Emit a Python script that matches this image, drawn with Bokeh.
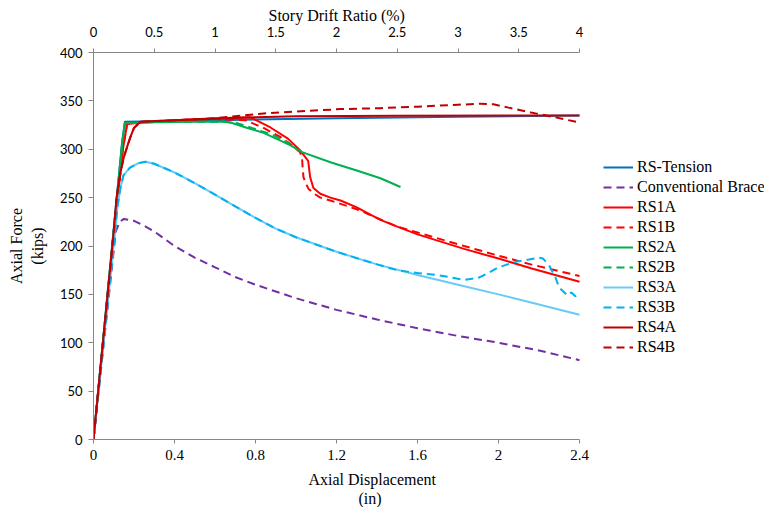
from bokeh.plotting import figure
from bokeh.models import (Range1d, LinearAxis, FixedTicker, Legend, LegendItem, Title)
from bokeh.embed import file_html
from bokeh.resources import INLINE

# Axial force (kips) versus axial displacement (in) for each brace specimen
rs_tension_x = [0, 0.14, 0.155, 0.6, 1.2, 1.8, 2.4]
rs_tension_y = [0, 305, 328.5, 330, 332, 333.5, 335]

conv_x = [0, 0.11, 0.13, 0.15, 0.2, 0.25, 0.3, 0.4, 0.5, 0.6, 0.7, 0.8, 1.0, 1.2, 1.4,
          1.6, 1.8, 2.0, 2.2, 2.4]
conv_y = [0, 215, 225, 228, 226, 221, 215, 200, 188, 178, 168, 160, 146, 134, 124,
          115, 107, 100, 92, 82]

rs1a_x = [0, 0.12, 0.145, 0.166, 0.25, 0.4, 0.6, 0.775, 0.874, 0.96, 1.02, 1.06, 1.07,
          1.086, 1.12, 1.17, 1.22, 1.3, 1.417, 1.5, 1.6, 1.83, 2.0, 2.16, 2.4]
rs1a_y = [0, 250, 300, 326, 328, 330, 332, 333, 322.5, 311, 299, 288, 271,
          260, 254, 250, 247, 240, 227, 220, 212, 197, 187, 177, 163]

rs1b_x = [0, 0.12, 0.145, 0.166, 0.25, 0.4, 0.6, 0.75, 0.84, 0.92, 0.98, 1.02, 1.03,
          1.033, 1.037, 1.05, 1.062, 1.09, 1.12, 1.17, 1.3, 1.5, 1.6, 1.83, 2.0, 2.16, 2.4]
rs1b_y = [0, 250, 300, 326, 328, 330, 331, 330, 322, 313, 304, 297, 291,
          280, 271, 264, 259, 254, 250, 247, 238, 220, 214, 200, 190, 181, 169]

rs2a_x = [0, 0.143, 0.155, 0.3, 0.5, 0.64, 0.677, 0.76, 0.84, 0.923, 0.973, 1.03, 1.17,
          1.3, 1.417, 1.516]
rs2a_y = [0, 309, 327, 328, 328.5, 328.7, 327.6, 322, 317, 309, 304, 297, 286.5,
          278, 270, 261]

rs2b_x = [0, 0.143, 0.155, 0.3, 0.5, 0.64, 0.71, 0.775, 0.825, 0.874, 0.94, 0.97]
rs2b_y = [0, 309, 327, 328, 328.5, 328.5, 327, 322.5, 319, 316, 309, 306]

rs3a_x = [0, 0.09, 0.105, 0.118, 0.133, 0.148, 0.18, 0.22, 0.257, 0.3, 0.4, 0.5, 0.6,
          0.7, 0.8, 0.9, 1.0, 1.2, 1.4, 1.6, 1.8, 2.0, 2.2, 2.4]
rs3a_y = [0, 181, 211, 240, 260, 273, 281, 285.5, 287, 285, 276, 265, 253,
          241, 229, 218, 209, 194, 181, 170, 160, 150, 139.5, 129]

rs3b_x = [0, 0.09, 0.105, 0.118, 0.133, 0.148, 0.18, 0.22, 0.257, 0.3, 0.4, 0.5, 0.6,
          0.7, 0.8, 0.9, 1.0, 1.2, 1.4, 1.5, 1.6, 1.7, 1.83, 1.9, 1.95, 2.0, 2.09,
          2.15, 2.2, 2.22, 2.25, 2.28, 2.3, 2.32, 2.34, 2.36, 2.38, 2.39]
rs3b_y = [0, 181, 211, 240, 260, 273, 281, 285.5, 287, 285, 276, 265, 253,
          241, 229, 218, 209, 194, 181, 175, 172, 170, 165, 167, 172, 178, 184,
          186, 188, 187, 180, 168, 157, 153, 149, 152, 148, 150]

rs4a_x = [0, 0.1, 0.114, 0.133, 0.15, 0.17, 0.183, 0.2, 0.232, 0.4, 0.6, 0.8, 1.0, 1.5, 2.4]
rs4a_y = [0, 215, 250, 276, 292, 305, 313, 322, 328.5, 330, 331.5, 333, 334, 334.5, 335]

rs4b_x = [0, 0.1, 0.114, 0.133, 0.15, 0.17, 0.183, 0.2, 0.232, 0.4, 0.6, 0.84, 0.923,
          1.22, 1.417, 1.6, 1.8, 1.91, 1.975, 2.05, 2.16, 2.28, 2.4]
rs4b_y = [0, 215, 250, 276, 292, 305, 313, 322, 328.5, 330, 332, 337, 338,
          341.5, 342.5, 344, 346, 347, 346.5, 343, 338, 333, 327.6]

x_ticks = [0, 0.4, 0.8, 1.2, 1.6, 2, 2.4]
x_tick_labels = ["0", "0.4", "0.8", "1.2", "1.6", "2", "2.4"]
y_ticks = [0, 50, 100, 150, 200, 250, 300, 350, 400]
drift_ticks = [0, 0.5, 1, 1.5, 2, 2.5, 3, 3.5, 4]
drift_tick_labels = ["0", "0.5", "1", "1.5", "2", "2.5", "3", "3.5", "4"]

series = [
    ("RS-Tension", rs_tension_x, rs_tension_y, "#0070C0", "solid"),
    ("Conventional Brace", conv_x, conv_y, "#7030A0", "8 5"),
    ("RS1A", rs1a_x, rs1a_y, "#FF0000", "solid"),
    ("RS1B", rs1b_x, rs1b_y, "#FF0000", "8 5"),
    ("RS2A", rs2a_x, rs2a_y, "#00B050", "solid"),
    ("RS2B", rs2b_x, rs2b_y, "#00B050", "8 5"),
    ("RS3A", rs3a_x, rs3a_y, "#66CCF5", "solid"),
    ("RS3B", rs3b_x, rs3b_y, "#00B0F0", "8 5"),
    ("RS4A", rs4a_x, rs4a_y, "#C00000", "solid"),
    ("RS4B", rs4b_x, rs4b_y, "#C00000", "8 5"),
]

SERIF = "Liberation Serif"
SANS = "Lato"
AXIS_GRAY = "#868686"
TITLE_SIZE = "16px"

# The plotted span 0-2.4 in covers 486 px; the frame continues to the right
# edge so the legend can sit beside the curves.
AXES_PX = 486
FRAME_W = 671
x_end = 2.4 * FRAME_W / AXES_PX
drift_end = 4.0 * FRAME_W / AXES_PX

p = figure(frame_width=FRAME_W, frame_height=387, output_backend="svg", toolbar_location=None,
           x_range=Range1d(0, x_end), y_range=Range1d(0, 400),
           min_border_left=93, min_border_top=52, min_border_bottom=68, min_border_right=0,
           x_axis_location=None, y_axis_location=None)
p.outline_line_color = None
p.background_fill_color = "white"
p.border_fill_color = "white"
p.xgrid.visible = False
p.ygrid.visible = False
p.extra_x_ranges = {"drift": Range1d(0, drift_end)}


def style_axis(ax, font, size):
    ax.axis_line_color = AXIS_GRAY
    ax.axis_line_width = 1
    ax.major_tick_line_color = AXIS_GRAY
    ax.major_tick_in = 0
    ax.major_tick_out = 5
    ax.minor_tick_line_color = None
    ax.major_label_text_font = font
    ax.major_label_text_font_size = size
    ax.major_label_text_color = "#000000"
    ax.axis_label_text_font = SERIF
    ax.axis_label_text_font_size = TITLE_SIZE
    ax.axis_label_text_font_style = "normal"
    ax.axis_label_text_color = "#000000"


yaxis = LinearAxis(ticker=FixedTicker(ticks=y_ticks), axis_label="Axial Force\n(kips)")
style_axis(yaxis, SANS, "13px")
yaxis.major_label_standoff = 6
yaxis.axis_label_standoff = 11
p.add_layout(yaxis, "left")

xaxis = LinearAxis(ticker=FixedTicker(ticks=x_ticks), bounds=(0, 2.4),
                   major_label_overrides=dict(zip(x_ticks, x_tick_labels)))
style_axis(xaxis, SERIF, "15px")
xaxis.major_tick_out = 4
xaxis.major_label_standoff = 6
p.add_layout(xaxis, "below")

top_axis = LinearAxis(x_range_name="drift", ticker=FixedTicker(ticks=drift_ticks),
                      bounds=(0, 4),
                      major_label_overrides=dict(zip(drift_ticks, drift_tick_labels)))
style_axis(top_axis, SANS, "13px")
top_axis.major_tick_out = 4
top_axis.major_label_standoff = 12
p.add_layout(top_axis, "above")

# Axis titles placed over the 0-2.4 span
p.add_layout(Title(text="Story Drift Ratio (%)", align="left", offset=175,
                   text_font=SERIF, text_font_size=TITLE_SIZE, text_font_style="normal",
                   text_color="#000000", standoff=0), "above")
p.add_layout(Title(text="Axial Displacement", align="left", offset=215,
                   text_font=SERIF, text_font_size=TITLE_SIZE, text_font_style="normal",
                   text_color="#000000", standoff=12), "below")
p.add_layout(Title(text="(in)", align="left", offset=265,
                   text_font=SERIF, text_font_size=TITLE_SIZE, text_font_style="normal",
                   text_color="#000000", standoff=-12), "below")

items = []
for name, xs, ys, color, dash in series:
    r = p.line(xs, ys, line_color=color, line_width=2, line_dash=dash)
    items.append(LegendItem(label=name, renderers=[r]))

legend = Legend(items=items, location=(510, 82), orientation="vertical",
                label_text_font=SERIF, label_text_font_size="16px", label_text_color="#000000",
                glyph_width=30, glyph_height=20, label_height=20, label_standoff=4,
                spacing=0, padding=0, margin=0,
                border_line_color=None, background_fill_alpha=0)
p.add_layout(legend, "center")

open("out.html", "w").write(file_html(p, INLINE))
